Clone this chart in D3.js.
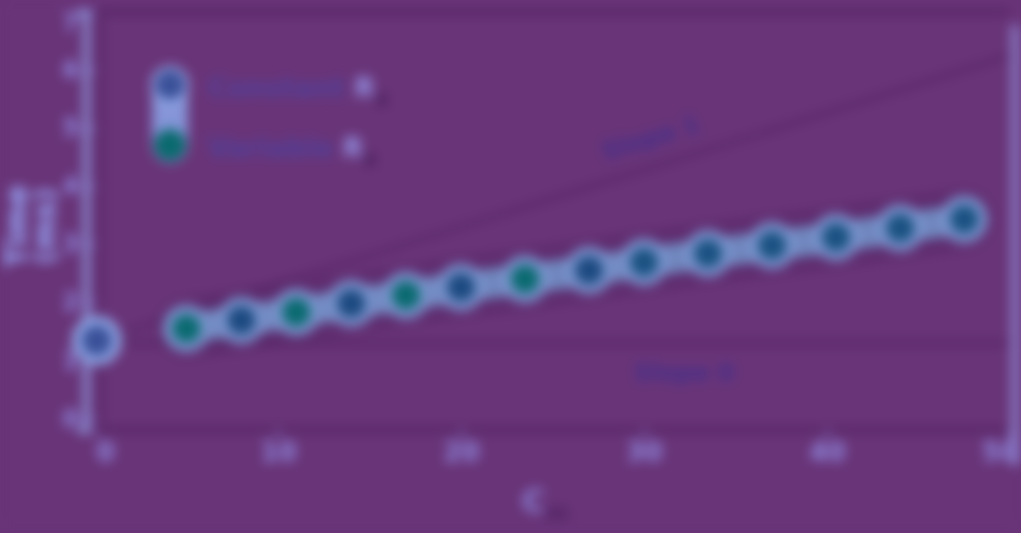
<!DOCTYPE html>
<html><head><meta charset="utf-8">
<script src="https://cdn.jsdelivr.net/npm/d3@7"></script>
<style>
html,body{margin:0;padding:0;background:#693478;overflow:hidden}
svg{display:block;filter:blur(6px)}
</style></head><body>
<svg id="c" width="1021" height="533"></svg>
<script>
const xTicks = [0, 10, 20, 30, 40, 50];
const yTicks = [0, 1, 2, 3, 4, 5, 6, 7];
const variableX = [5, 8, 11, 14, 17, 20, 23.5, 27, 30, 33.5, 37, 40.5, 44, 47.5];
const variableY = [1.55, 1.69, 1.83, 1.98, 2.12, 2.26, 2.40, 2.55, 2.69, 2.84, 2.98, 3.12, 3.28, 3.43];
const constantX = [0.1];
const constantY = [1.34];
const slope1Line = [[0.1, 1.34], [50, 6.25]];
const slope0Line = [[0.1, 1.3], [50, 1.3]];
const legendLabels = ["Constant R", "Variable R"];
const legendSubs = ["s", "s"];

const svg = d3.select("#c");
const W = 1021, H = 533;
const m = {l: 95, r: 11, t: 12, b: 103};
const x = d3.scaleLinear().domain([0, 50]).range([m.l, W - m.r]);
const y = d3.scaleLinear().domain([-0.2, 7]).range([H - m.b, m.t]);

svg.append("rect").attr("width", W).attr("height", H).attr("fill", "#693478");

const dark = "#4e1f5e";
const light = "#8f9be0";
const lbl = "#8f8ae0";

// frame
svg.append("line").attr("x1", x(0)).attr("x2", x(50)).attr("y1", y(7)).attr("y2", y(7))
  .attr("stroke", dark).attr("stroke-width", 4);
svg.append("line").attr("x1", x(0)).attr("x2", x(50)).attr("y1", y(-0.2)).attr("y2", y(-0.2))
  .attr("stroke", dark).attr("stroke-width", 4);
svg.append("line").attr("x1", x(0) + 5).attr("x2", x(0) + 5).attr("y1", y(7)).attr("y2", y(-0.2))
  .attr("stroke", dark).attr("stroke-width", 3);
// right edge band
svg.append("line").attr("x1", x(50) + 5).attr("x2", x(50) + 5).attr("y1", 25).attr("y2", 465)
  .attr("stroke", "#8a7fc8").attr("stroke-width", 8);

// axes
const xAxis = d3.axisBottom(x).tickValues(xTicks).tickSize(6);
const gx = svg.append("g").attr("transform", `translate(0,${y(-0.2)})`).call(xAxis);
gx.select(".domain").remove();
gx.selectAll("line").attr("stroke", lbl).attr("stroke-width", 3);
gx.selectAll("text").attr("fill", lbl).attr("font-family", "DejaVu Sans").attr("font-size", 26)
  .attr("font-weight", "bold").attr("dy", "0.85em")
  .attr("text-anchor", (d, i) => i === xTicks.length - 1 ? "end" : "middle")
  .attr("dx", (d, i) => i === 0 ? 10 : (i === xTicks.length - 1 ? 8 : 0));

const yAxis = d3.axisLeft(y).tickValues(yTicks).tickSize(8);
const gy = svg.append("g").attr("transform", `translate(${x(0)},0)`).call(yAxis);
gy.select(".domain").attr("stroke", light).attr("stroke-width", 6).attr("transform", "translate(-9,0)");
gy.selectAll("line").attr("stroke", lbl).attr("stroke-width", 3);
gy.selectAll("text").attr("fill", lbl).attr("font-family", "DejaVu Sans").attr("font-size", 24)
  .attr("font-weight", "bold").attr("dx", "-0.2em")
  .attr("dy", (d, i) => i === yTicks.length - 1 ? "0.75em" : "0.32em");

// axis titles
const yt = svg.append("text").attr("transform", "translate(28,226) rotate(-90)")
  .attr("text-anchor", "middle").attr("fill", "#9aacff").attr("font-family", "DejaVu Sans")
  .attr("font-size", 30).attr("font-weight", "bold");
yt.append("tspan").attr("x", 0).attr("dy", "-0.05em").text("Time");
yt.append("tspan").attr("x", 0).attr("dy", "0.95em").text("(ms)");

const xt = svg.append("text").attr("x", 545).attr("y", 512).attr("text-anchor", "middle")
  .attr("fill", "#8a84d8").attr("font-family", "DejaVu Sans").attr("font-size", 32).attr("font-weight", "bold");
xt.append("tspan").text("C");
xt.append("tspan").attr("font-size", 22).attr("dy", "0.35em").attr("fill", "#4a1f60").text("m");

// reference lines
const line = d3.line().x(d => x(d[0])).y(d => y(d[1]));
svg.append("path").datum(slope1Line).attr("d", line).attr("stroke", dark).attr("stroke-width", 2.5).attr("fill", "none");
svg.append("path").datum(slope0Line).attr("d", line).attr("stroke", dark).attr("stroke-width", 3).attr("fill", "none");

// line labels
svg.append("text").attr("transform", `translate(${x(30.5)},${y(4.7)}) rotate(-17)`)
  .attr("text-anchor", "middle").attr("fill", "#45308a").attr("font-family", "DejaVu Sans")
  .attr("font-size", 24).attr("font-weight", "bold").text("Slope 1");
svg.append("text").attr("x", x(32.2)).attr("y", y(0.65)).attr("text-anchor", "middle")
  .attr("fill", "#45308a").attr("font-family", "DejaVu Sans")
  .attr("font-size", 24).attr("font-weight", "bold").text("Slope 0");

// variable series
const pts = variableX.map((v, i) => [v, variableY[i]]);
svg.append("path").datum(pts).attr("d", line).attr("stroke", dark).attr("stroke-width", 60)
  .attr("fill", "none").attr("stroke-linecap", "round").attr("opacity", 0.4);
svg.append("path").datum(pts).attr("d", line).attr("stroke", "#6f86bd").attr("stroke-width", 30)
  .attr("fill", "none").attr("stroke-linecap", "round");
svg.selectAll(".vp").data(pts).join("circle").attr("class", "vp")
  .attr("cx", d => x(d[0])).attr("cy", d => y(d[1])).attr("r", 19)
  .attr("fill", (d, i) => i < 8 ? (i % 2 ? "#1c4a80" : "#0a6a70") : "#1a5282")
  .attr("stroke", "#7d96d0").attr("stroke-width", 9);

// constant series
svg.selectAll(".cp").data(constantX.map((v, i) => [v, constantY[i]])).join("circle").attr("class", "cp")
  .attr("cx", d => x(d[0])).attr("cy", d => y(d[1])).attr("r", 20)
  .attr("fill", "#3a5098").attr("stroke", "#8aa0e0").attr("stroke-width", 10);

// legend
const lg = svg.append("g");
lg.append("line").attr("x1", 170).attr("x2", 170).attr("y1", 85).attr("y2", 145)
  .attr("stroke", "#8595d8").attr("stroke-width", 36).attr("stroke-linecap", "round");
lg.append("circle").attr("cx", 170).attr("cy", 85).attr("r", 17).attr("fill", "#3a5098")
  .attr("stroke", "#9ab0ee").attr("stroke-width", 4);
lg.append("circle").attr("cx", 170).attr("cy", 145).attr("r", 16).attr("fill", "#0a6a6e");
legendLabels.forEach((t, i) => {
  const tx = lg.append("text").attr("x", 208).attr("y", 97 + i * 60).attr("fill", "#50409a")
    .attr("font-family", "DejaVu Sans").attr("font-size", 27).attr("font-weight", "bold");
  tx.append("tspan").text(t.slice(0, -2));
  tx.append("tspan").attr("fill", "#9595e8").text(" " + t.slice(-1));
  tx.append("tspan").attr("font-size", 20).attr("dy", "0.4em").attr("fill", "#3a1550").text(legendSubs[i]);
});
</script>
</body></html>
